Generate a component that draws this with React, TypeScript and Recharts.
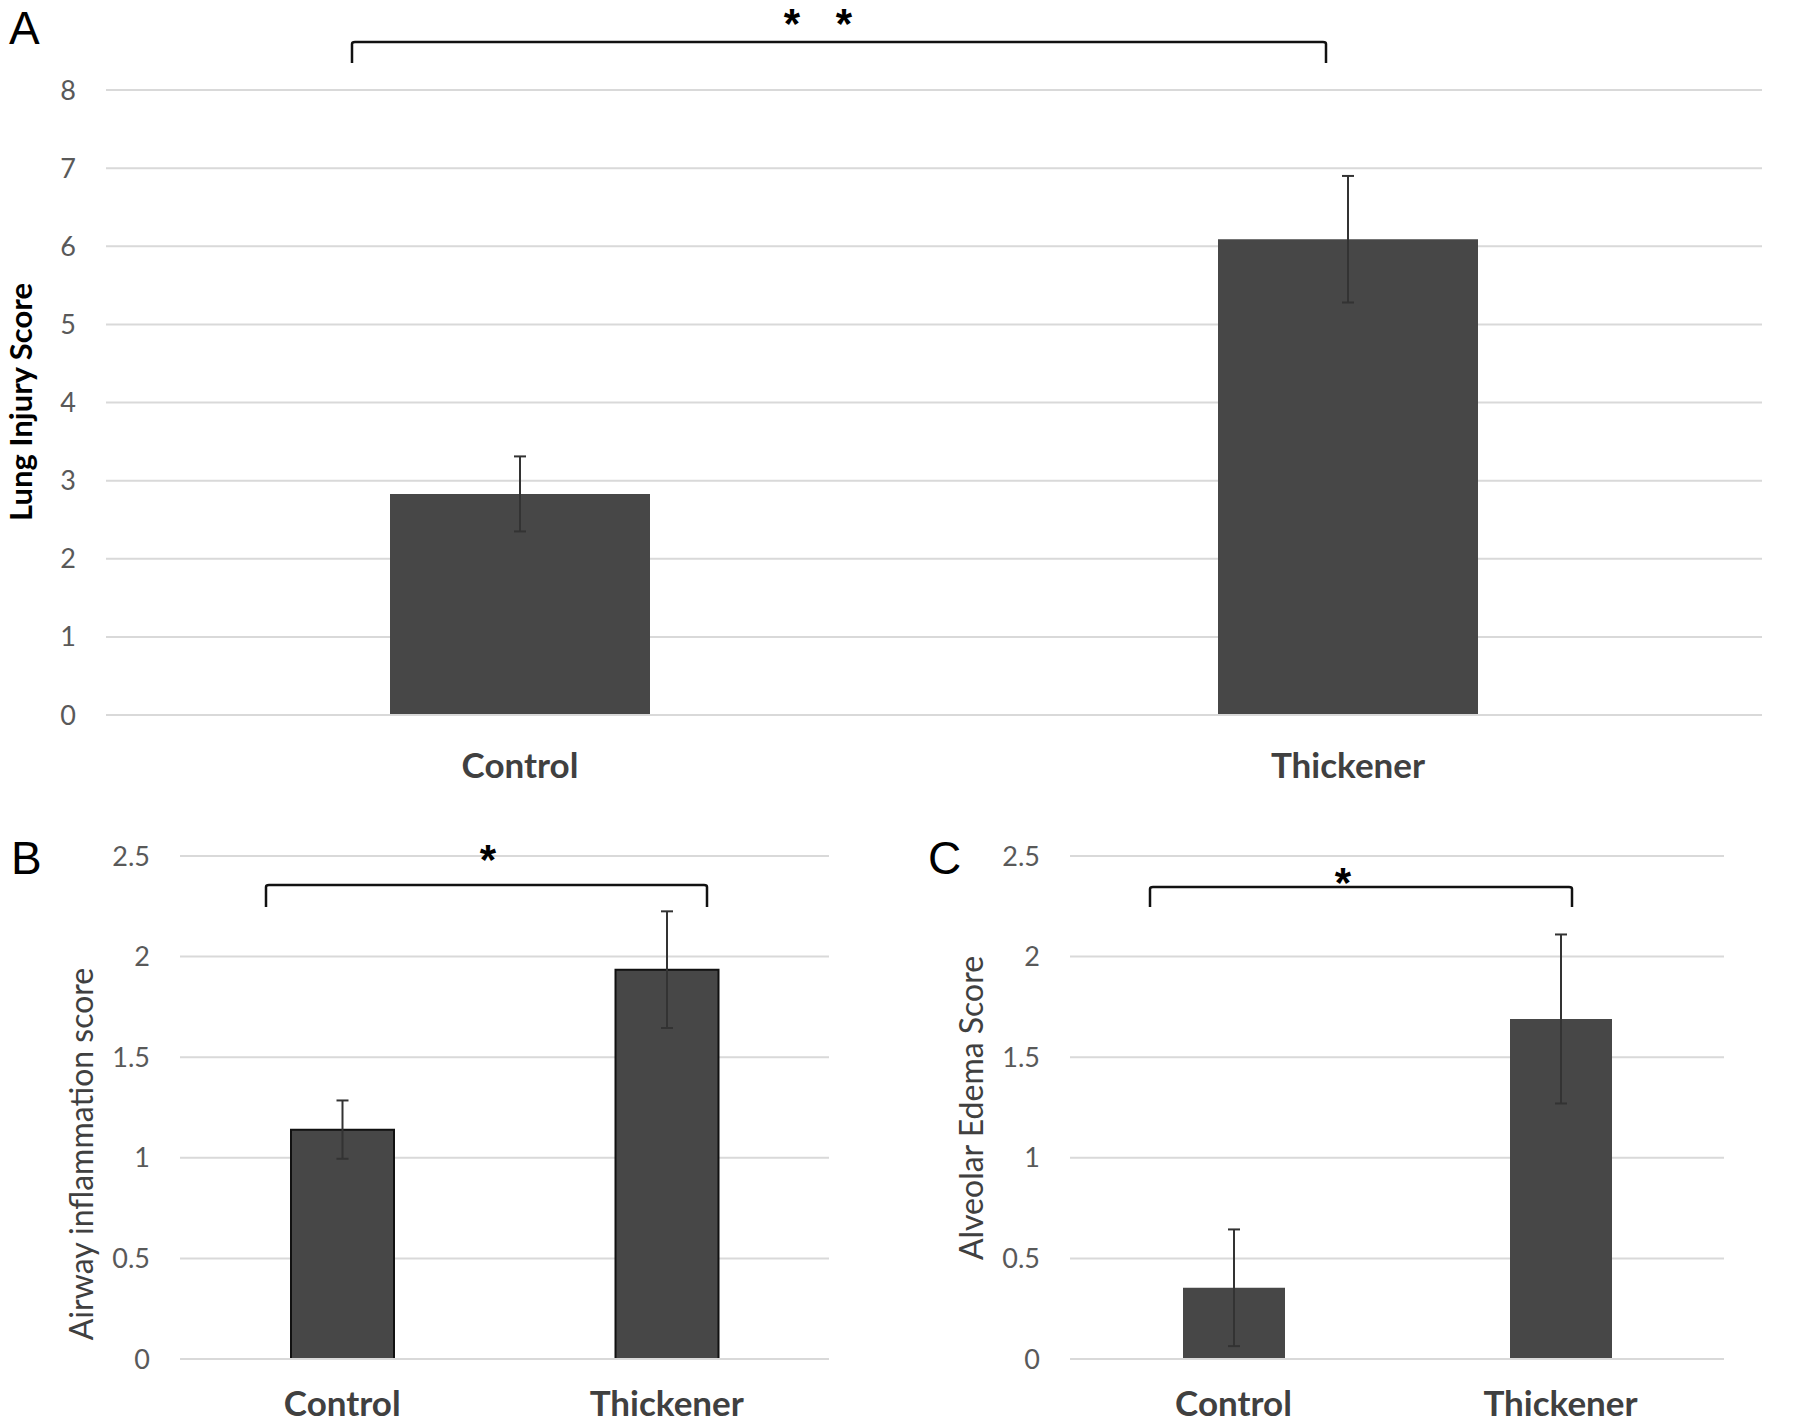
import { Bar, BarChart, CartesianGrid, ErrorBar, XAxis, YAxis } from "recharts";

const categories = ["Control", "Thickener"];

const lungInjuryMeans = [2.83, 6.09];
const lungInjuryErrors = [0.48, 0.81];
const lungInjuryTicks = [0, 1, 2, 3, 4, 5, 6, 7, 8];

const airwayMeans = [1.14, 1.935];
const airwayErrors = [0.145, 0.29];

const edemaMeans = [0.354, 1.69];
const edemaErrors = [0.29, 0.42];

const smallTicks = [0, 0.5, 1, 1.5, 2, 2.5];

const FONT = "Lato, 'Open Sans', sans-serif";
const BAR_FILL = "#474747";
const GRID = "#d9d9d9";

function toRows(means: number[], errors: number[]) {
  return categories.map((name, i) => ({ name, value: means[i], err: errors[i] }));
}

type PanelProps = {
  rows: { name: string; value: number; err: number }[];
  width: number;
  height: number;
  margin: { top: number; right: number; bottom: number; left: number };
  yWidth: number;
  ticks: number[];
  barSize: number;
  tickFont: number;
  labelFont: number;
  labelGap: number;
  outline?: boolean;
};

function ScorePanel({ rows, width, height, margin, yWidth, ticks, barSize, tickFont, labelFont, labelGap, outline }: PanelProps) {
  return (
    <BarChart width={width} height={height} data={rows} margin={margin}>
      <CartesianGrid vertical={false} stroke={GRID} strokeWidth={2} />
      <XAxis
        dataKey="name"
        height={60}
        tickLine={false}
        axisLine={{ stroke: GRID, strokeWidth: 2 }}
        tickMargin={labelGap}
        tick={{ fontFamily: FONT, fontSize: labelFont, fontWeight: 700, fill: "#404040" }}
      />
      <YAxis
        width={yWidth}
        domain={[ticks[0], ticks[ticks.length - 1]]}
        ticks={ticks}
        tickLine={false}
        axisLine={false}
        tickMargin={24}
        tick={{ fontFamily: FONT, fontSize: tickFont, fill: "#595959" }}
      />
      <Bar
        dataKey="value"
        fill={BAR_FILL}
        barSize={barSize}
        stroke={outline ? "#111" : undefined}
        strokeWidth={outline ? 2 : 0}
        isAnimationActive={false}
      >
        <ErrorBar dataKey="err" width={6} stroke="#333" strokeWidth={2} isAnimationActive={false} />
      </Bar>
    </BarChart>
  );
}

export default function App() {
  return (
    <div style={{ position: "absolute", left: 0, top: 0, width: 1800, height: 1424, background: "#fff" }}>
      <div style={{ position: "absolute", left: 0, top: 0 }}>
        <ScorePanel
          rows={toRows(lungInjuryMeans, lungInjuryErrors)}
          width={1800}
          height={800}
          margin={{ top: 90, right: 38, bottom: 25, left: 0 }}
          yWidth={106}
          ticks={lungInjuryTicks}
          barSize={260}
          tickFont={27}
          labelFont={35}
          labelGap={32}
        />
      </div>
      <div style={{ position: "absolute", left: 0, top: 800 }}>
        <ScorePanel
          rows={toRows(airwayMeans, airwayErrors)}
          width={900}
          height={624}
          margin={{ top: 56, right: 71, bottom: 5, left: 0 }}
          yWidth={180}
          ticks={smallTicks}
          barSize={103}
          tickFont={27}
          labelFont={35}
          labelGap={26}
          outline
        />
      </div>
      <div style={{ position: "absolute", left: 900, top: 800 }}>
        <ScorePanel
          rows={toRows(edemaMeans, edemaErrors)}
          width={900}
          height={624}
          margin={{ top: 56, right: 76, bottom: 5, left: 0 }}
          yWidth={170}
          ticks={smallTicks}
          barSize={102}
          tickFont={27}
          labelFont={35}
          labelGap={26}
        />
      </div>

      {/* panel letters, axis titles and significance brackets */}
      <svg width={1800} height={1424} style={{ position: "absolute", left: 0, top: 0, pointerEvents: "none" }}>
        <g fontFamily="'Liberation Sans', Arial, sans-serif" fontSize={46} fill="#000">
          <text x={9} y={44}>A</text>
          <text x={11} y={874}>B</text>
          <text x={928} y={874}>C</text>
        </g>

        <text
          transform="translate(20 402) rotate(-90)"
          textAnchor="middle"
          dominantBaseline="central"
          fontFamily={FONT}
          fontSize={31}
          fontWeight={700}
          fill="#000"
        >
          Lung Injury Score
        </text>
        <text
          transform="translate(80 1154) rotate(-90)"
          textAnchor="middle"
          dominantBaseline="central"
          fontFamily={FONT}
          fontSize={32}
          fill="#404040"
        >
          Airway inflammation score
        </text>
        <text
          transform="translate(970 1108) rotate(-90)"
          textAnchor="middle"
          dominantBaseline="central"
          fontFamily={FONT}
          fontSize={32}
          fill="#404040"
        >
          Alveolar Edema Score
        </text>

        <g fill="none" stroke="#111" strokeWidth={2.5}>
          <path d="M352 63 V44 Q352 42 355 42 H1323 Q1326 42 1326 44 V63" />
          <path d="M266 907 V887 Q266 885 269 885 H704 Q707 885 707 887 V907" />
          <path d="M1150 907 V889 Q1150 887 1153 887 H1569 Q1572 887 1572 889 V907" />
        </g>
        <g fontFamily="'Liberation Sans', Arial, sans-serif" fontSize={42} fontWeight={700} textAnchor="middle" fill="#000">
          <text x={792} y={38}>*</text>
          <text x={844} y={38}>*</text>
          <text x={488} y={874}>*</text>
          <text x={1343} y={897}>*</text>
        </g>
      </svg>
    </div>
  );
}
